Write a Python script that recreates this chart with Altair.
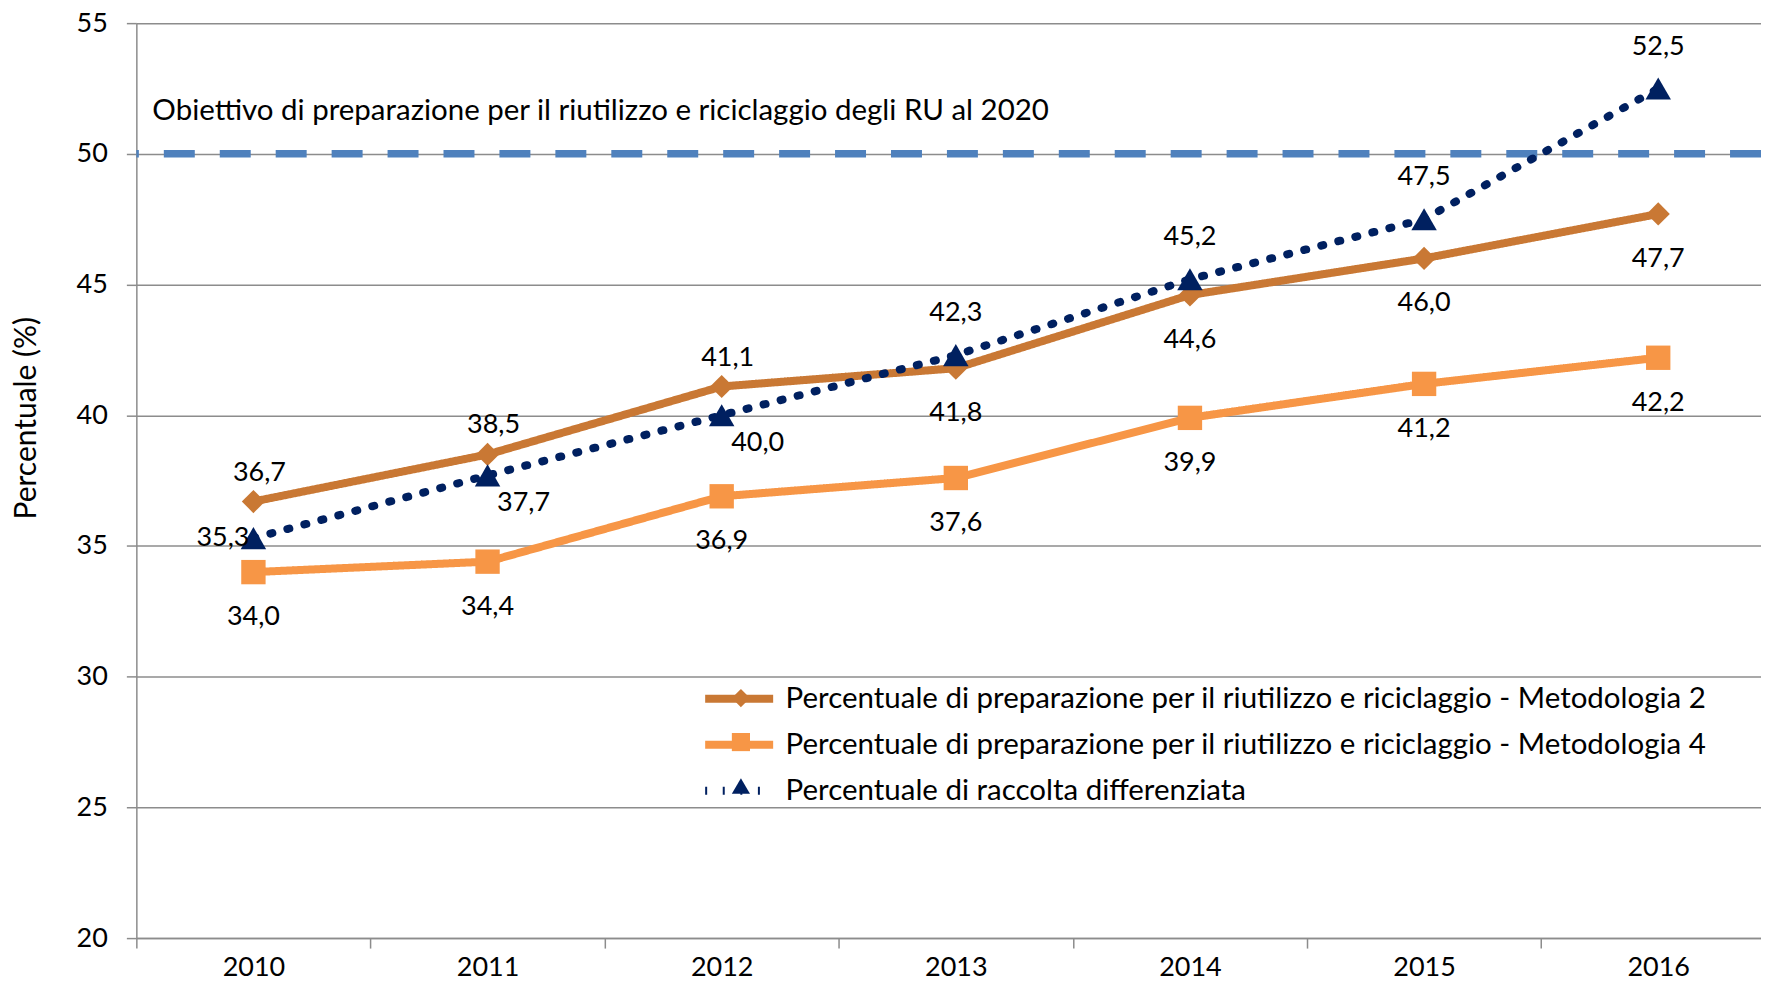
import altair as alt
import pandas as pd

years = [2010, 2011, 2012, 2013, 2014, 2015, 2016]
series_names = [
    "Percentuale di preparazione per il riutilizzo e riciclaggio - Metodologia 2",
    "Percentuale di preparazione per il riutilizzo e riciclaggio - Metodologia 4",
    "Percentuale di raccolta differenziata",
]
series_codes = ["m2", "m4", "rd"]
metodologia2 = [36.7, 38.5, 41.1, 41.8, 44.6, 46.0, 47.7]
metodologia4 = [34.0, 34.4, 36.9, 37.6, 39.9, 41.2, 42.2]
raccolta = [35.3, 37.7, 40.0, 42.3, 45.2, 47.5, 52.5]
# label placement for each point
place_m2 = ["top_near", "top_near", "top_near", "bottom", "bottom", "bottom", "bottom"]
place_m4 = ["bottom"] * 7
place_rd = ["left", "right_below", "right_below", "top", "top", "top", "top"]

target_value = 50
target_text = "Obiettivo di preparazione per il riutilizzo e riciclaggio degli RU al 2020"
y_ticks = [20, 25, 30, 35, 40, 45, 50, 55]
x_ticks = [2009.5, 2010, 2010.5, 2011, 2011.5, 2012, 2012.5, 2013, 2013.5,
           2014, 2014.5, 2015, 2015.5, 2016]

colors = ["#C97834", "#F79646", "#002060"]
shapes = ["diamond", "square", "triangle-up"]
dashes = [[1, 0], [1, 0], [2, 15.6]]
line_widths = [8, 8, 8.8]
marker_sizes = [540, 650, 760]

rows = []
for name, code, vals, places in zip(series_names, series_codes,
                                    [metodologia2, metodologia4, raccolta],
                                    [place_m2, place_m4, place_rd]):
    for yr, v, p in zip(years, vals, places):
        rows.append({"year": yr, "value": v, "series": name, "series_b": code, "place": p})
df = pd.DataFrame(rows)

FONT = "Lato"
NUM_SIZE = 27
TXT_SIZE = 29.5
W = 1626.5
H = 916
x_domain = [2009.5, 2009.5 + W / 234.4]
x_scale = alt.Scale(domain=x_domain, nice=False, zero=False)
y_scale = alt.Scale(domain=[20, 55], nice=False, zero=False)

x_enc = alt.X("year:Q", scale=x_scale,
              axis=alt.Axis(values=x_ticks, title=None, grid=False,
                            labelExpr="datum.value % 1 === 0 ? format(datum.value, 'd') : ''",
                            tickColor={"condition": {"test": "datum.value % 1 === 0", "value": "transparent"},
                                       "value": "#8c8c8c"},
                            tickSize=10, tickWidth=1.5, labelPadding=6, labelFlush=False,
                            labelOverlap=False, labelFontSize=NUM_SIZE, labelFont=FONT,
                            labelColor="#000000", domainColor="#8c8c8c", domainWidth=1.5))
y_enc = alt.Y("value:Q", scale=y_scale,
              axis=alt.Axis(values=y_ticks, format="d", title="Percentuale (%)",
                            grid=True, gridColor="#8c8c8c", gridWidth=1.5,
                            tickSize=10, tickColor="#8c8c8c", tickWidth=1.5,
                            labelPadding=19, labelFontSize=NUM_SIZE, labelFont=FONT,
                            labelColor="#000000", domainColor="#8c8c8c", domainWidth=1.5,
                            titleFont=FONT, titleFontSize=30, titleFontWeight="normal",
                            titleColor="#000000", titleAngle=-90, titleX=-110, titleY=395,
                            titleAlign="center", titleBaseline="middle"))

base = alt.Chart(df)

target = alt.Chart(pd.DataFrame({"y": [target_value]})).mark_rule(
    color="#4F81BD", strokeWidth=7.5, strokeDash=[31, 25]
).encode(y=alt.Y("y:Q", scale=y_scale))

target_label = alt.Chart(pd.DataFrame({"y": [target_value], "x": [x_domain[0]], "t": [target_text]})).mark_text(
    align="left", baseline="middle", dx=16, dy=-43, font=FONT, fontSize=TXT_SIZE, color="#000000"
).encode(x=alt.X("x:Q", scale=x_scale), y=alt.Y("y:Q", scale=y_scale), text="t:N")

LEG_Y = 661
legend_lines = alt.Legend(title=None, orient="none", legendX=588, legendY=LEG_Y,
                          symbolType="M-3,0H3", symbolSize=515, symbolStrokeWidth=7,
                          labelFont=FONT, labelFontSize=TXT_SIZE, labelColor="#000000",
                          labelOffset=31, rowPadding=13, labelLimit=1400)
legend_marks = alt.Legend(title=None, orient="none", legendX=590.5, legendY=LEG_Y,
                          symbolSize=330, labelFont=FONT, labelFontSize=TXT_SIZE,
                          labelColor="transparent", labelOffset=12, rowPadding=13,
                          labelLimit=1400, symbolStrokeWidth=0)

lines = base.mark_line(strokeCap="round", strokeJoin="round").encode(
    x=x_enc, y=y_enc,
    color=alt.Color("series:N", scale=alt.Scale(domain=series_names, range=colors),
                    legend=legend_lines),
    strokeDash=alt.StrokeDash("series:N", scale=alt.Scale(domain=series_names, range=dashes),
                              legend=legend_lines),
    strokeWidth=alt.StrokeWidth("series:N", scale=alt.Scale(domain=series_names, range=line_widths),
                                legend=None),
)

points = base.mark_point(filled=True, opacity=1).encode(
    x="year:Q", y="value:Q",
    fill=alt.Fill("series_b:N", scale=alt.Scale(domain=series_codes, range=colors),
                  legend=legend_marks),
    shape=alt.Shape("series_b:N", scale=alt.Scale(domain=series_codes, range=shapes),
                    legend=legend_marks),
    size=alt.Size("series_b:N", scale=alt.Scale(domain=series_codes, range=marker_sizes), legend=None),
)

label_expr = "replace(format(datum.value, '.1f'), '.', ',')"
def labels(place, **kw):
    return base.transform_filter(alt.datum.place == place).transform_calculate(
        lab=label_expr
    ).mark_text(font=FONT, fontSize=NUM_SIZE, color="#000000", baseline="middle", **kw).encode(
        x="year:Q", y="value:Q", text="lab:N")

text_layers = [
    labels("top", dy=-42, align="center"),
    labels("top_near", dy=-29, dx=6, align="center"),
    labels("bottom", dy=45, align="center"),
    labels("left", dx=-4, dy=0, align="right"),
    labels("right_below", dx=36, dy=28, align="center"),
]

chart = alt.layer(target, target_label, lines, points, *text_layers).resolve_legend(
    fill="independent", shape="independent"
).properties(
    width=W, height=H,
    autosize=alt.AutoSizeParams(type="none"),
    padding={"left": 128.5, "top": 14.6, "right": 0, "bottom": 42},
    background="#ffffff",
).configure_view(stroke=None)

chart.save("out.html", embed_options={"renderer": "svg", "actions": False})
